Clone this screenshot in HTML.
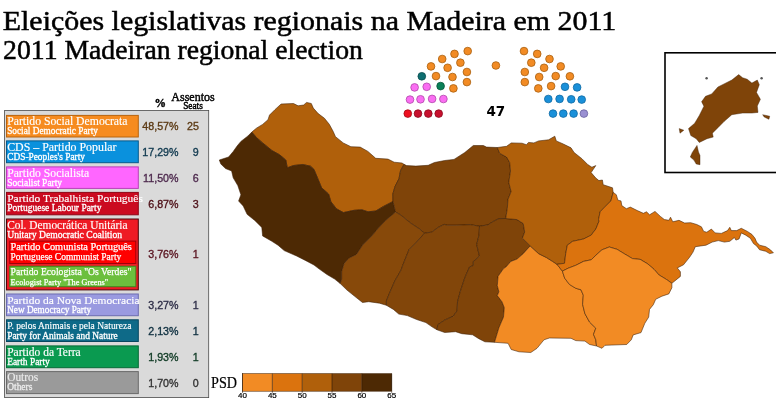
<!DOCTYPE html>
<html><head><meta charset="utf-8"><title>Eleições legislativas regionais na Madeira em 2011</title>
<style>
html,body{margin:0;padding:0;background:#fff;}
svg{display:block}
text{font-family:"Liberation Serif",serif}
.t1{font-size:11.8px;fill:#fff;stroke:#fff;stroke-width:.15px}
.t2{font-size:9.5px;fill:#fff;stroke:#fff;stroke-width:.3px}
.t3{font-size:10.2px;fill:#fff;stroke:#fff;stroke-width:.25px}
.n{font-family:"Liberation Sans",sans-serif;font-size:11.3px}
.hd{fill:#000;stroke:#000;stroke-width:.45px}
</style></head><body>
<svg width="776" height="405" viewBox="0 0 776 405">
<rect width="776" height="405" fill="#fff"/>

<text x="2.8" y="29.9" font-size="28" fill="#000" stroke="#000" stroke-width=".5" textLength="613.4" lengthAdjust="spacingAndGlyphs">Eleições legislativas regionais na Madeira em 2011</text>
<text x="3.1" y="59.0" font-size="27" fill="#000" stroke="#000" stroke-width=".5" textLength="359.8" lengthAdjust="spacingAndGlyphs">2011 Madeiran regional election</text>
<rect x="4.6" y="110.4" width="204.1" height="287.2" fill="#dadada" stroke="#4a4a4a" stroke-width=".8"/>
<text class="hd" x="160.2" y="106.8" font-size="11.5" text-anchor="middle" font-weight="bold">%</text>
<text class="hd" x="193" y="100.5" font-size="12.6" text-anchor="middle" textLength="43.3" lengthAdjust="spacingAndGlyphs">Assentos</text>
<text class="hd" x="193" y="108.6" font-size="9.5" text-anchor="middle" textLength="19.6" lengthAdjust="spacingAndGlyphs">Seats</text>
<rect x="6.5" y="115.4" width="131.8" height="21.6" fill="#F68B1F" stroke="#B9640F" stroke-width="1"/>
<text class="t1" x="7.2" y="125.0" font-size="11.8" textLength="120.3" lengthAdjust="spacingAndGlyphs" style="font-size:11.8px;fill:#fff;stroke:#fff">Partido Social Democrata</text>
<text class="t2" x="7.2" y="134.1" textLength="90.7" lengthAdjust="spacingAndGlyphs" style="fill:#fff;stroke:#fff">Social Democratic Party</text>
<text class="n" transform="translate(178.5,130.3) scale(.945,1)" text-anchor="end" fill="#5C3A14" stroke="#5C3A14" stroke-width=".35">48,57%</text>
<text class="n" transform="translate(192.9,130.3) scale(.945,1)" text-anchor="middle" fill="#5C3A14" stroke="#5C3A14" stroke-width=".35">25</text>
<rect x="6.5" y="140.9" width="131.8" height="21.8" fill="#0A91DD" stroke="#075A8C" stroke-width="1"/>
<text class="t1" x="7.2" y="150.5" font-size="11.8" textLength="109.3" lengthAdjust="spacingAndGlyphs" style="font-size:11.8px;fill:#fff;stroke:#fff">CDS – Partido Popular</text>
<text class="t2" x="7.2" y="159.6" textLength="77.8" lengthAdjust="spacingAndGlyphs" style="fill:#fff;stroke:#fff">CDS-Peoples's Party</text>
<text class="n" transform="translate(178.5,155.9) scale(.945,1)" text-anchor="end" fill="#10394F" stroke="#10394F" stroke-width=".35">17,29%</text>
<text class="n" transform="translate(195.6,155.9) scale(.945,1)" text-anchor="middle" fill="#10394F" stroke="#10394F" stroke-width=".35">9</text>
<rect x="6.5" y="166.9" width="131.8" height="21.5" fill="#FF66FF" stroke="#B840B8" stroke-width="1"/>
<text class="t1" x="7.2" y="176.5" font-size="11.8" textLength="82" lengthAdjust="spacingAndGlyphs" style="font-size:11.8px;fill:#fff;stroke:#fff">Partido Socialista</text>
<text class="t2" x="7.2" y="185.6" textLength="54.9" lengthAdjust="spacingAndGlyphs" style="fill:#fff;stroke:#fff">Socialist Party</text>
<text class="n" transform="translate(178.5,181.8) scale(.945,1)" text-anchor="end" fill="#4E2A4E" stroke="#4E2A4E" stroke-width=".35">11,50%</text>
<text class="n" transform="translate(195.6,181.8) scale(.945,1)" text-anchor="middle" fill="#4E2A4E" stroke="#4E2A4E" stroke-width=".35">6</text>
<rect x="6.5" y="192.4" width="131.8" height="22.4" fill="#CB0A20" stroke="#8E0616" stroke-width="1"/>
<text class="t1" x="7.2" y="202.0" font-size="11.0" textLength="135.7" lengthAdjust="spacingAndGlyphs" style="font-size:11.0px;fill:#fff;stroke:#fff">Partido Trabalhista Português</text>
<text class="t2" x="7.2" y="211.1" textLength="94.2" lengthAdjust="spacingAndGlyphs" style="fill:#fff;stroke:#fff">Portuguese Labour Party</text>
<text class="n" transform="translate(178.5,207.7) scale(.945,1)" text-anchor="end" fill="#4E1018" stroke="#4E1018" stroke-width=".35">6,87%</text>
<text class="n" transform="translate(195.6,207.7) scale(.945,1)" text-anchor="middle" fill="#4E1018" stroke="#4E1018" stroke-width=".35">3</text>
<rect x="6.5" y="219.0" width="131.8" height="70.9" fill="#EE1B24" stroke="#4A080C" stroke-width="1"/>
<text class="t1" x="7.2" y="228.6" font-size="11.8" textLength="120.3" lengthAdjust="spacingAndGlyphs" style="font-size:11.8px;fill:#fff;stroke:#fff">Col. Democrática Unitária</text>
<text class="t2" x="7.2" y="237.7" textLength="114.9" lengthAdjust="spacingAndGlyphs" style="fill:#fff;stroke:#fff">Unitary Democratic Coalition</text>
<text class="n" transform="translate(178.5,258.4) scale(.945,1)" text-anchor="end" fill="#5A1420" stroke="#5A1420" stroke-width=".35">3,76%</text>
<text class="n" transform="translate(195.6,258.4) scale(.945,1)" text-anchor="middle" fill="#5A1420" stroke="#5A1420" stroke-width=".35">1</text>
<rect x="6.5" y="294.0" width="131.8" height="21.7" fill="#9A9AE0" stroke="#6C6CB0" stroke-width="1"/>
<text class="t1" x="7.2" y="303.6" font-size="11.0" textLength="132.3" lengthAdjust="spacingAndGlyphs" style="font-size:11.0px;fill:#fff;stroke:#fff">Partido da Nova Democracia</text>
<text class="t2" x="7.2" y="312.7" textLength="83.9" lengthAdjust="spacingAndGlyphs" style="fill:#fff;stroke:#fff">New Democracy Party</text>
<text class="n" transform="translate(178.5,309.0) scale(.945,1)" text-anchor="end" fill="#2E2E48" stroke="#2E2E48" stroke-width=".35">3,27%</text>
<text class="n" transform="translate(195.6,309.0) scale(.945,1)" text-anchor="middle" fill="#2E2E48" stroke="#2E2E48" stroke-width=".35">1</text>
<rect x="6.5" y="319.8" width="131.8" height="21.7" fill="#0E6A88" stroke="#084860" stroke-width="1"/>
<text class="t1" x="7.2" y="329.4" font-size="10.2" textLength="124.2" lengthAdjust="spacingAndGlyphs" style="font-size:10.2px;fill:#fff;stroke:#fff">P. pelos Animais e pela Natureza</text>
<text class="t2" x="7.2" y="338.5" textLength="110.6" lengthAdjust="spacingAndGlyphs" style="fill:#fff;stroke:#fff">Party for Animals and Nature</text>
<text class="n" transform="translate(178.5,334.8) scale(.945,1)" text-anchor="end" fill="#0F3040" stroke="#0F3040" stroke-width=".35">2,13%</text>
<text class="n" transform="translate(195.6,334.8) scale(.945,1)" text-anchor="middle" fill="#0F3040" stroke="#0F3040" stroke-width=".35">1</text>
<rect x="6.5" y="345.9" width="131.8" height="21.8" fill="#0A9A50" stroke="#066A36" stroke-width="1"/>
<text class="t1" x="7.2" y="355.5" font-size="11.8" textLength="73.5" lengthAdjust="spacingAndGlyphs" style="font-size:11.8px;fill:#fff;stroke:#fff">Partido da Terra</text>
<text class="t2" x="7.2" y="364.6" textLength="42.6" lengthAdjust="spacingAndGlyphs" style="fill:#fff;stroke:#fff">Earth Party</text>
<text class="n" transform="translate(178.5,360.9) scale(.945,1)" text-anchor="end" fill="#0F3A24" stroke="#0F3A24" stroke-width=".35">1,93%</text>
<text class="n" transform="translate(195.6,360.9) scale(.945,1)" text-anchor="middle" fill="#0F3A24" stroke="#0F3A24" stroke-width=".35">1</text>
<rect x="6.5" y="371.6" width="131.8" height="22.0" fill="#9A9A9A" stroke="#6a6a6a" stroke-width="1"/>
<text class="t1" x="7.2" y="381.2" font-size="11.8" textLength="31" lengthAdjust="spacingAndGlyphs" style="font-size:11.8px;fill:#ececec;stroke:#ececec">Outros</text>
<text class="t2" x="7.2" y="390.3" textLength="25.2" lengthAdjust="spacingAndGlyphs" style="fill:#ececec;stroke:#ececec">Others</text>
<text class="n" transform="translate(178.5,386.7) scale(.945,1)" text-anchor="end" fill="#333333" stroke="#333333" stroke-width=".35">1,70%</text>
<text class="n" transform="translate(195.6,386.7) scale(.945,1)" text-anchor="middle" fill="#333333" stroke="#333333" stroke-width=".35">0</text>
<rect x="9.8" y="241.1" width="126" height="22.4" fill="#FF0000" stroke="#A00008" stroke-width="1"/>
<text class="t3" x="10.5" y="249.8" textLength="121.4" lengthAdjust="spacingAndGlyphs">Partido Comunista Português</text>
<text class="t3" x="10.5" y="259.7" textLength="110.8" lengthAdjust="spacingAndGlyphs">Portuguese Communist Party</text>
<rect x="9.8" y="266.3" width="126" height="20.4" fill="#6CBF3D" stroke="#3F8A1E" stroke-width="1"/>
<text class="t3" x="10.5" y="275.2" textLength="120.9" lengthAdjust="spacingAndGlyphs">Partido Ecologista "Os Verdes"</text>
<text class="t3" x="10.5" y="284.6" textLength="97.7" lengthAdjust="spacingAndGlyphs" style="font-size:9.2px">Ecologist Party "The Greens"</text>
<circle cx="467.7" cy="51.1" r="3.85" fill="#F28B24" stroke="#A8600F" stroke-width=".8"/>
<circle cx="524.0" cy="51.1" r="3.85" fill="#F28B24" stroke="#A8600F" stroke-width=".8"/>
<circle cx="454.5" cy="53.9" r="3.85" fill="#F28B24" stroke="#A8600F" stroke-width=".8"/>
<circle cx="537.2" cy="53.9" r="3.85" fill="#F28B24" stroke="#A8600F" stroke-width=".8"/>
<circle cx="442.2" cy="59.0" r="3.85" fill="#F28B24" stroke="#A8600F" stroke-width=".8"/>
<circle cx="549.5" cy="59.0" r="3.85" fill="#F28B24" stroke="#A8600F" stroke-width=".8"/>
<circle cx="431.0" cy="66.4" r="3.85" fill="#F28B24" stroke="#A8600F" stroke-width=".8"/>
<circle cx="560.7" cy="66.4" r="3.85" fill="#F28B24" stroke="#A8600F" stroke-width=".8"/>
<circle cx="460.4" cy="62.7" r="3.85" fill="#F28B24" stroke="#A8600F" stroke-width=".8"/>
<circle cx="531.3" cy="62.7" r="3.85" fill="#F28B24" stroke="#A8600F" stroke-width=".8"/>
<circle cx="447.6" cy="67.8" r="3.85" fill="#F28B24" stroke="#A8600F" stroke-width=".8"/>
<circle cx="544.1" cy="67.8" r="3.85" fill="#F28B24" stroke="#A8600F" stroke-width=".8"/>
<circle cx="436.0" cy="76.1" r="3.85" fill="#F28B24" stroke="#A8600F" stroke-width=".8"/>
<circle cx="555.7" cy="76.1" r="3.85" fill="#F28B24" stroke="#A8600F" stroke-width=".8"/>
<circle cx="466.9" cy="72.0" r="3.85" fill="#F28B24" stroke="#A8600F" stroke-width=".8"/>
<circle cx="524.8" cy="72.0" r="3.85" fill="#F28B24" stroke="#A8600F" stroke-width=".8"/>
<circle cx="452.5" cy="77.0" r="3.85" fill="#F28B24" stroke="#A8600F" stroke-width=".8"/>
<circle cx="539.2" cy="77.0" r="3.85" fill="#F28B24" stroke="#A8600F" stroke-width=".8"/>
<circle cx="466.9" cy="82.1" r="3.85" fill="#F28B24" stroke="#A8600F" stroke-width=".8"/>
<circle cx="524.8" cy="82.1" r="3.85" fill="#F28B24" stroke="#A8600F" stroke-width=".8"/>
<circle cx="453.4" cy="88.4" r="3.85" fill="#F28B24" stroke="#A8600F" stroke-width=".8"/>
<circle cx="538.3" cy="88.4" r="3.85" fill="#F28B24" stroke="#A8600F" stroke-width=".8"/>
<circle cx="495.9" cy="65.5" r="3.85" fill="#F28B24" stroke="#A8600F" stroke-width=".8"/>
<circle cx="569.9" cy="76.3" r="3.85" fill="#F28B24" stroke="#A8600F" stroke-width=".8"/>
<circle cx="551.1" cy="86.1" r="3.85" fill="#F28B24" stroke="#A8600F" stroke-width=".8"/>
<circle cx="421.8" cy="76.3" r="3.85" fill="#0E6E70" stroke="#084a4c" stroke-width=".8"/>
<circle cx="440.6" cy="86.1" r="3.85" fill="#0A8058" stroke="#06563a" stroke-width=".8"/>
<circle cx="414.6" cy="87.4" r="3.85" fill="#FA6EF2" stroke="#B048AA" stroke-width=".8"/>
<circle cx="577.1" cy="87.4" r="3.85" fill="#1A90D9" stroke="#0F6AA3" stroke-width=".8"/>
<circle cx="426.7" cy="86.8" r="3.85" fill="#FA6EF2" stroke="#B048AA" stroke-width=".8"/>
<circle cx="565.0" cy="86.8" r="3.85" fill="#1A90D9" stroke="#0F6AA3" stroke-width=".8"/>
<circle cx="410.0" cy="99.6" r="3.85" fill="#FA6EF2" stroke="#B048AA" stroke-width=".8"/>
<circle cx="581.7" cy="99.6" r="3.85" fill="#1A90D9" stroke="#0F6AA3" stroke-width=".8"/>
<circle cx="420.5" cy="99.3" r="3.85" fill="#FA6EF2" stroke="#B048AA" stroke-width=".8"/>
<circle cx="571.2" cy="99.3" r="3.85" fill="#1A90D9" stroke="#0F6AA3" stroke-width=".8"/>
<circle cx="432.1" cy="98.9" r="3.85" fill="#FA6EF2" stroke="#B048AA" stroke-width=".8"/>
<circle cx="559.6" cy="98.9" r="3.85" fill="#1A90D9" stroke="#0F6AA3" stroke-width=".8"/>
<circle cx="443.4" cy="99.0" r="3.85" fill="#FA6EF2" stroke="#B048AA" stroke-width=".8"/>
<circle cx="548.3" cy="99.0" r="3.85" fill="#1A90D9" stroke="#0F6AA3" stroke-width=".8"/>
<circle cx="407.8" cy="113.6" r="3.85" fill="#EE1020" stroke="#A00A14" stroke-width=".8"/>
<circle cx="418.0" cy="113.6" r="3.85" fill="#C8102E" stroke="#8A0A1E" stroke-width=".8"/>
<circle cx="428.3" cy="113.6" r="3.85" fill="#C8102E" stroke="#8A0A1E" stroke-width=".8"/>
<circle cx="438.7" cy="113.6" r="3.85" fill="#C8102E" stroke="#8A0A1E" stroke-width=".8"/>
<circle cx="553.0" cy="113.6" r="3.85" fill="#1A90D9" stroke="#0F6AA3" stroke-width=".8"/>
<circle cx="563.3" cy="113.6" r="3.85" fill="#1A90D9" stroke="#0F6AA3" stroke-width=".8"/>
<circle cx="573.6" cy="113.6" r="3.85" fill="#1A90D9" stroke="#0F6AA3" stroke-width=".8"/>
<circle cx="583.9" cy="113.6" r="3.85" fill="#9A90D2" stroke="#6a62a0" stroke-width=".8"/>
<text x="495.8" y="115.6" text-anchor="middle" font-size="13.4" textLength="18.8" lengthAdjust="spacingAndGlyphs" font-weight="bold" style="font-family:'DejaVu Sans','Liberation Sans',sans-serif" fill="#000">47</text>
<g stroke="#3b1c02" stroke-width=".55" stroke-linejoin="round">
<polygon fill="#B0600B" points="251.8,132.1 256.4,128.2 262.6,124.4 268.0,119.7 269.5,115.1 274.9,109.7 281.1,104.0 293.5,103.5 298.1,105.8 303.6,105.0 306.6,102.4 311.3,103.5 313.3,108.1 318.2,113.6 324.4,118.2 329.3,124.3 333.1,131.3 335.5,136.7 343.2,142.9 350.9,146.7 360.2,147.1 367.9,151.4 375.7,158.3 388.0,159.1 394.2,162.2 402.0,163.0 404.0,164.3 400.5,170.8 399.0,178.6 395.1,186.3 392.8,194.0 393.0,201.5 383.5,206.4 375.8,211.0 368.0,211.8 361.9,209.8 354.1,210.3 343.3,212.6 336.3,208.7 330.9,201.7 328.6,194.0 321.6,187.8 317.8,178.6 313.9,169.3 310.5,166.2 302.8,164.5 293.5,165.5 287.3,167.8 285.8,160.0 279.6,154.8 271.9,150.5 262.6,142.9 256.4,137.5"/>
<polygon fill="#4D2904" points="251.8,132.1 247.9,136.0 240.9,141.4 237.1,146.0 233.2,151.5 228.6,157.0 219.3,160.0 220.8,163.9 225.5,168.6 231.6,170.9 233.2,177.8 237.8,185.6 240.9,194.8 238.6,201.0 243.2,206.0 247.1,214.3 254.8,220.5 261.8,227.4 262.6,235.9 271.9,241.3 278.0,245.2 284.2,250.6 296.6,256.0 305.9,260.7 314.0,265.0 319.3,269.1 327.0,274.5 334.7,279.1 340.2,283.5 341.7,279.1 341.7,271.4 344.0,263.7 348.7,258.2 356.4,254.4 362.6,245.1 371.9,235.8 376.2,230.6 381.1,225.0 385.5,220.5 395.5,212.0 393.0,201.5 383.5,206.4 375.8,211.0 368.0,211.8 361.9,209.8 354.1,210.3 343.3,212.6 336.3,208.7 330.9,201.7 328.6,194.0 321.6,187.8 317.8,178.6 313.9,169.3 310.5,166.2 302.8,164.5 293.5,165.5 287.3,167.8 285.8,160.0 279.6,154.8 271.9,150.5 262.6,142.9 256.4,137.5"/>
<polygon fill="#7F4409" points="404.0,164.3 406.6,165.6 415.9,166.1 428.2,165.3 434.4,162.5 444.7,160.5 454.0,159.4 464.8,152.5 473.3,145.5 483.4,145.5 486.5,147.1 497.3,147.5 499.6,153.2 506.6,157.1 509.7,162.5 510.5,171.0 508.8,182.4 511.1,191.6 508.0,199.4 507.3,208.7 505.7,218.5 498.8,218.7 492.6,221.8 487.9,224.9 479.5,226.2 470.5,224.7 456.6,225.2 447.3,225.2 444.2,224.4 438.0,227.5 431.9,232.1 424.5,233.2 419.5,229.0 410.2,222.8 400.9,215.1 395.5,212.0 393.0,201.5 392.8,194.0 395.1,186.3 399.0,178.6 400.5,170.8"/>
<polygon fill="#87490A" points="340.2,283.5 347.0,290.1 354.7,296.3 362.5,302.5 368.7,301.7 379.5,303.2 386.4,305.3 386.4,300.9 389.5,293.2 394.9,280.8 401.1,270.0 402.8,265.2 409.0,249.7 416.7,242.0 424.5,233.2 419.5,229.0 410.2,222.8 400.9,215.1 395.5,212.0 385.5,220.5 381.1,225.0 376.2,230.6 371.9,235.8 362.6,245.1 356.4,254.4 348.7,258.2 344.0,263.7 341.7,271.4 341.7,279.1"/>
<polygon fill="#82460A" points="386.4,305.3 393.4,309.4 398.8,314.1 407.3,315.6 416.6,319.5 425.9,322.6 432.4,327.1 437.0,329.8 437.8,324.7 444.7,320.1 453.2,316.2 457.1,310.8 457.5,302.0 460.2,291.8 464.8,277.8 469.5,267.0 473.3,265.5 473.3,261.6 479.5,256.2 478.0,250.0 476.7,244.5 479.0,235.2 479.5,226.2 470.5,224.7 456.6,225.2 447.3,225.2 444.2,224.4 438.0,227.5 431.9,232.1 424.5,233.2 416.7,242.0 409.0,249.7 402.8,265.2 401.1,270.0 394.9,280.8 389.5,293.2 386.4,300.9"/>
<polygon fill="#7F4409" points="437.0,329.8 444.7,332.5 455.6,331.7 461.8,333.7 472.6,334.8 478.8,338.7 484.9,341.8 494.5,342.3 498.9,327.8 503.5,317.0 504.3,307.7 502.0,301.8 497.3,295.6 498.9,291.8 497.3,285.6 498.1,276.3 503.5,268.6 506.2,266.8 510.8,261.4 517.0,259.1 523.2,253.7 530.2,245.9 522.4,238.2 524.7,232.0 523.2,223.5 517.0,219.6 505.7,218.5 498.8,218.7 492.6,221.8 487.9,224.9 479.5,226.2 479.0,235.2 476.7,244.5 478.0,250.0 479.5,256.2 473.3,261.6 473.3,265.5 469.5,267.0 464.8,277.8 460.2,291.8 457.5,302.0 457.1,310.8 453.2,316.2 444.7,320.1 437.8,324.7"/>
<polygon fill="#F28B24" points="494.5,342.3 508.1,343.3 511.2,349.5 519.0,351.8 530.8,352.5 537.0,348.3 544.0,339.8 549.4,338.0 571.0,338.3 575.7,340.6 584.9,341.1 589.6,344.5 596.5,346.0 595.8,339.8 593.5,334.4 595.8,328.2 589.6,322.1 584.9,313.6 582.6,304.3 583.3,295.2 581.0,289.8 575.6,288.2 569.4,284.4 564.7,278.2 562.4,271.2 557.0,264.3 552.6,261.4 546.4,257.5 538.7,253.7 530.2,245.9 523.2,253.7 517.0,259.1 510.8,261.4 506.2,266.8 503.5,268.6 498.1,276.3 497.3,285.6 498.9,291.8 497.3,295.6 502.0,301.8 504.3,307.7 503.5,317.0 498.9,327.8"/>
<polygon fill="#B0600B" points="497.3,147.5 506.6,146.3 511.2,142.9 522.0,143.2 526.4,144.7 528.5,142.4 533.9,142.9 538.6,140.9 548.6,139.8 554.8,136.2 556.3,140.9 563.3,144.0 571.0,147.8 574.1,152.5 581.9,158.7 588.0,164.8 591.9,167.2 595.8,165.6 591.1,172.6 595.8,178.0 598.9,180.6 602.4,180.0 603.2,184.7 612.5,187.8 613.2,192.4 610.9,200.9 604.7,207.1 600.1,211.8 598.6,219.5 599.0,221.2 595.9,228.9 591.2,235.1 583.5,239.0 572.7,241.3 567.3,245.2 565.7,253.7 564.5,263.3 557.0,264.3 552.6,261.4 546.4,257.5 538.7,253.7 530.2,245.9 522.4,238.2 524.7,232.0 523.2,223.5 517.0,219.6 505.7,218.5 507.3,208.7 508.0,199.4 511.1,191.6 508.8,182.4 510.5,171.0 509.7,162.5 506.6,157.1 499.6,153.2"/>
<polygon fill="#DB730E" points="613.2,192.4 616.3,194.7 617.9,200.2 621.0,200.9 621.8,205.6 626.4,208.7 630.3,207.1 637.2,210.5 643.4,213.3 646.5,211.8 649.6,214.8 655.0,211.4 660.4,216.4 664.3,219.5 668.9,220.3 670.5,217.2 672.8,221.8 679.0,220.3 684.6,223.0 690.7,222.7 696.8,224.5 701.4,226.8 703.7,231.4 706.8,232.2 711.4,229.1 715.2,232.9 721.3,233.4 727.5,230.6 729.8,227.3 731.3,230.6 736.7,230.6 741.3,228.3 747.4,231.4 752.0,234.5 755.0,238.3 756.6,242.1 759.6,245.2 765.8,246.7 770.4,249.8 773.4,252.8 769.6,253.6 765.8,251.3 759.6,249.8 756.6,245.9 753.5,243.6 750.4,238.3 745.8,235.2 741.3,232.9 739.0,239.0 735.9,240.1 734.4,237.5 729.8,241.3 724.4,242.1 718.3,240.6 712.2,242.1 706.0,245.2 695.3,246.7 693.0,252.1 689.7,257.1 683.5,264.8 677.3,267.9 680.4,271.8 680.4,276.4 671.9,283.3 666.5,279.5 658.8,274.8 654.1,269.4 647.9,264.0 640.2,259.4 632.5,258.6 624.7,254.0 617.0,249.3 609.3,247.0 602.0,249.8 595.9,255.2 591.2,259.8 583.5,261.4 575.8,265.3 568.0,268.3 562.4,271.2 557.0,264.3 564.5,263.3 565.7,253.7 567.3,245.2 572.7,241.3 583.5,239.0 591.2,235.1 595.9,228.9 599.0,221.2 598.6,219.5 600.1,211.8 604.7,207.1 610.9,200.9"/>
<polygon fill="#F28B24" points="596.5,346.0 602.0,348.3 605.0,345.3 626.7,344.5 631.3,339.8 633.2,334.9 641.0,332.6 644.8,323.3 648.7,317.1 649.5,309.4 653.3,304.7 655.7,299.3 661.9,296.2 668.8,293.9 671.9,287.7 671.9,283.3 666.5,279.5 658.8,274.8 654.1,269.4 647.9,264.0 640.2,259.4 632.5,258.6 624.7,254.0 617.0,249.3 609.3,247.0 602.0,249.8 595.9,255.2 591.2,259.8 583.5,261.4 575.8,265.3 568.0,268.3 562.4,271.2 564.7,278.2 569.4,284.4 575.6,288.2 581.0,289.8 583.3,295.2 582.6,304.3 584.9,313.6 589.6,322.1 595.8,328.2 593.5,334.4 595.8,339.8"/>
</g>
<rect x="665" y="52.8" width="130" height="119.7" fill="none" stroke="#000" stroke-width="1.6"/>
<g fill="#7F4409" stroke="#3b1c02" stroke-width=".4"><polygon points="701.6,101.7 705.5,96.3 711.7,93.9 717.9,87.0 724.0,83.9 731.8,80.0 738.7,74.6 742.6,77.7 747.2,79.2 751.9,83.1 757.3,80.0 759.3,84.7 756.5,92.4 760.4,99.3 757.3,106.0 758.0,112.4 751.9,113.1 742.6,113.1 731.8,114.7 724.0,121.6 717.9,127.8 712.4,133.2 713.2,137.1 707.0,138.7 699.3,142.5 696.2,138.7 690.8,135.6 688.5,128.6 694.7,123.2 699.3,115.5 703.9,106.2"/>
<polygon points="679.2,128.6 683.8,130.2 680.0,133.2"/>
<polygon points="762.7,114.7 769.7,116.2 768.9,119.3 764.2,117.0"/>
<polygon points="697.0,145.4 698.5,152.0 700.0,155.5 700.0,164.7 696.2,164.0 693.9,160.1 690.3,157.0 692.3,152.4"/>
</g>
<circle cx="706.6" cy="78.2" r="1.2" fill="#555"/>
<circle cx="761.6" cy="78.2" r="1.2" fill="#555"/>
<text x="211" y="388.3" font-size="16.3" fill="#000" stroke="#000" stroke-width=".2" textLength="26" lengthAdjust="spacingAndGlyphs">PSD</text>
<rect x="242.50" y="373.6" width="29.84" height="17.6" fill="#F28B24"/>
<rect x="272.34" y="373.6" width="29.84" height="17.6" fill="#DB730E"/>
<rect x="302.18" y="373.6" width="29.84" height="17.6" fill="#B0600B"/>
<rect x="332.02" y="373.6" width="29.84" height="17.6" fill="#7F4409"/>
<rect x="361.86" y="373.6" width="29.84" height="17.6" fill="#4D2904"/>
<rect x="242.5" y="373.6" width="149.20" height="17.6" fill="none" stroke="#3a1c00" stroke-width=".5"/>
<g stroke="#2a1400" stroke-width=".6">
<line x1="242.50" y1="373.6" x2="242.50" y2="392.8"/>
<line x1="272.34" y1="373.6" x2="272.34" y2="392.8"/>
<line x1="302.18" y1="373.6" x2="302.18" y2="392.8"/>
<line x1="332.02" y1="373.6" x2="332.02" y2="392.8"/>
<line x1="361.86" y1="373.6" x2="361.86" y2="392.8"/>
<line x1="391.70" y1="373.6" x2="391.70" y2="392.8"/>
</g>
<text x="242.50" y="398.0" font-size="8" text-anchor="middle" fill="#000" stroke="#000" stroke-width=".2" style="font-family:'Liberation Sans',sans-serif">40</text>
<text x="272.34" y="398.0" font-size="8" text-anchor="middle" fill="#000" stroke="#000" stroke-width=".2" style="font-family:'Liberation Sans',sans-serif">45</text>
<text x="302.18" y="398.0" font-size="8" text-anchor="middle" fill="#000" stroke="#000" stroke-width=".2" style="font-family:'Liberation Sans',sans-serif">50</text>
<text x="332.02" y="398.0" font-size="8" text-anchor="middle" fill="#000" stroke="#000" stroke-width=".2" style="font-family:'Liberation Sans',sans-serif">55</text>
<text x="361.86" y="398.0" font-size="8" text-anchor="middle" fill="#000" stroke="#000" stroke-width=".2" style="font-family:'Liberation Sans',sans-serif">60</text>
<text x="391.70" y="398.0" font-size="8" text-anchor="middle" fill="#000" stroke="#000" stroke-width=".2" style="font-family:'Liberation Sans',sans-serif">65</text>
</svg></body></html>
